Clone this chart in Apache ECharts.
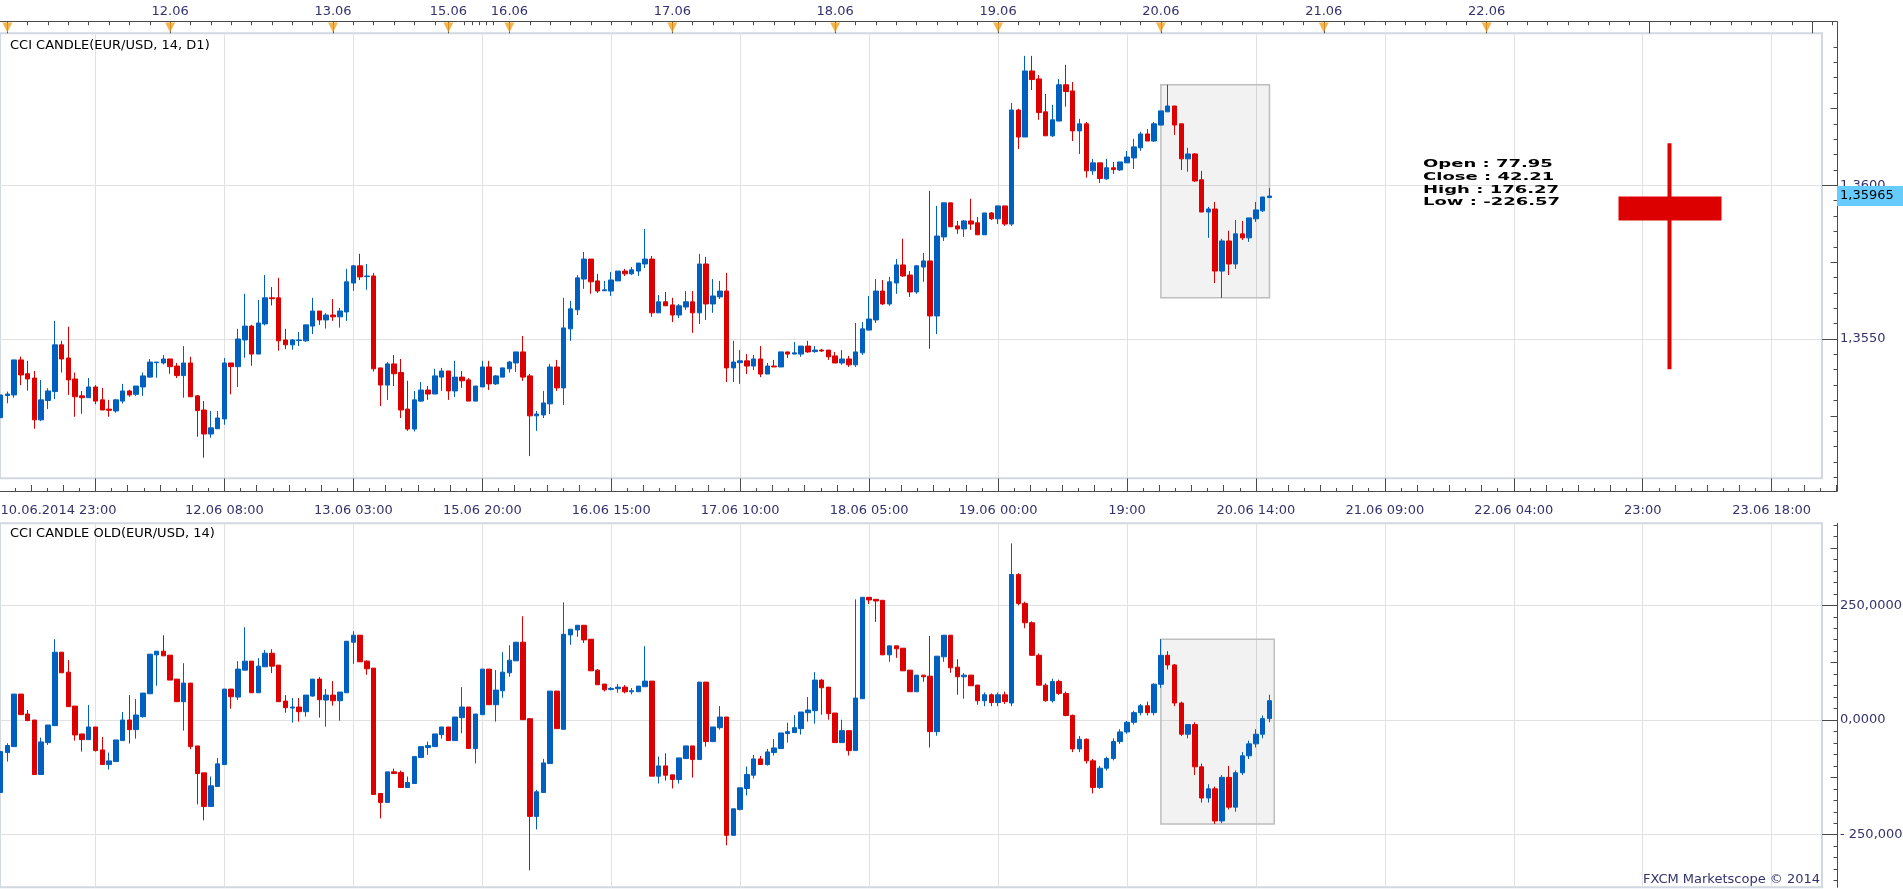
<!DOCTYPE html>
<html><head><meta charset="utf-8">
<script src="https://cdn.jsdelivr.net/npm/echarts@6/dist/echarts.min.js"></script>
<style>html,body{margin:0;padding:0;background:#fff;overflow:hidden}#c{width:1903px;height:889px}</style>
</head><body><div id="c"></div>
<script>
// ---------------- DATA ----------------
// Top panel: CCI CANDLE(EUR/USD, 14, D1) drawn on the price scale (hourly bars, index 0 = 10.06 23:00)
const topOpen = [
1.35244,1.35316,1.35318,1.35432,1.35387,1.35373,1.35237,1.35300,1.35329,1.35481,
1.35438,1.35370,1.35315,1.35309,1.35344,1.35302,1.35272,1.35266,1.35298,1.35331,
1.35320,1.35344,1.35376,1.35423,1.35422,1.35435,1.35412,1.35381,1.35422,1.35315,
1.35269,1.35191,1.35208,1.35240,1.35422,1.35410,1.35497,1.35542,1.35451,1.35549,
1.35634,1.35634,1.35497,1.35481,1.35495,1.35494,1.35542,1.35591,1.35562,1.35578,
1.35572,1.35588,1.35682,1.35738,1.35703,1.35705,1.35406,1.35350,1.35419,1.35391,
1.35272,1.35207,1.35298,1.35334,1.35321,1.35376,1.35396,1.35331,1.35376,1.35367,
1.35298,1.35344,1.35409,1.35354,1.35376,1.35403,1.35422,1.35458,1.35380,1.35250,
1.35253,1.35289,1.35409,1.35341,1.35533,1.35595,1.35695,1.35760,1.35689,1.35657,
1.35656,1.35689,1.35721,1.35712,1.35721,1.35744,1.35760,1.35585,1.35621,1.35611,
1.35578,1.35604,1.35621,1.35585,1.35744,1.35614,1.35637,1.35656,1.35406,1.35423,
1.35429,1.35412,1.35435,1.35386,1.35412,1.35409,1.35458,1.35451,1.35451,1.35477,
1.35459,1.35464,1.35464,1.35445,1.35422,1.35435,1.35416,1.35455,1.35529,1.35562,
1.35656,1.35614,1.35682,1.35741,1.35708,1.35653,1.35734,1.35754,1.35575,1.35832,
1.35943,1.35868,1.35858,1.35884,1.35878,1.35839,1.35910,1.35891,1.35933,1.35874,
1.36245,1.36157,1.36372,1.36346,1.36239,1.36161,1.36209,1.36327,1.36307,1.36177,
1.36200,1.36047,1.36073,1.36021,1.36057,1.36050,1.36073,1.36089,1.36122,1.36167,
1.36144,1.36196,1.36239,1.36258,1.36200,1.36086,1.36102,1.36018,1.35913,1.35923,
1.35721,1.35819,1.35744,1.35842,1.35829,1.35891,1.35917,1.35960];
const topHigh = [
1.35318,1.35329,1.35432,1.35443,1.35429,1.35396,1.35367,1.35340,1.35559,1.35494,
1.35540,1.35391,1.35331,1.35373,1.35350,1.35341,1.35302,1.35305,1.35354,1.35335,
1.35347,1.35391,1.35435,1.35425,1.35448,1.35435,1.35422,1.35477,1.35442,1.35318,
1.35298,1.35266,1.35266,1.35438,1.35422,1.35533,1.35647,1.35546,1.35627,1.35708,
1.35669,1.35699,1.35533,1.35500,1.35523,1.35546,1.35634,1.35591,1.35584,1.35630,
1.35601,1.35728,1.35741,1.35777,1.35744,1.35715,1.35406,1.35425,1.35448,1.35435,
1.35364,1.35331,1.35360,1.35347,1.35403,1.35406,1.35396,1.35429,1.35396,1.35373,
1.35347,1.35429,1.35429,1.35383,1.35406,1.35429,1.35458,1.35510,1.35386,1.35266,
1.35331,1.35419,1.35432,1.35634,1.35624,1.35708,1.35783,1.35760,1.35712,1.35689,
1.35718,1.35721,1.35728,1.35734,1.35747,1.35858,1.35770,1.35643,1.35653,1.35634,
1.35614,1.35656,1.35656,1.35777,1.35767,1.35695,1.35689,1.35715,1.35494,1.35464,
1.35451,1.35448,1.35477,1.35422,1.35432,1.35458,1.35458,1.35490,1.35477,1.35494,
1.35477,1.35468,1.35464,1.35458,1.35464,1.35445,1.35552,1.35555,1.35640,1.35695,
1.35692,1.35702,1.35760,1.35826,1.35721,1.35741,1.35780,1.35982,1.35933,1.35943,
1.35943,1.35884,1.35887,1.35956,1.35897,1.35910,1.35913,1.35933,1.35933,1.36268,
1.36249,1.36421,1.36421,1.36359,1.36297,1.36262,1.36346,1.36392,1.36336,1.36216,
1.36206,1.36086,1.36073,1.36086,1.36076,1.36076,1.36112,1.36151,1.36174,1.36183,
1.36206,1.36242,1.36327,1.36258,1.36200,1.36122,1.36105,1.36047,1.35930,1.35946,
1.35826,1.35852,1.35887,1.35884,1.35894,1.35946,1.35962,1.35991];
const topLow = [
1.35244,1.35291,1.35309,1.35350,1.35332,1.35208,1.35233,1.35272,1.35305,1.35391,
1.35318,1.35247,1.35257,1.35309,1.35288,1.35269,1.35247,1.35260,1.35290,1.35312,
1.35315,1.35315,1.35374,1.35374,1.35417,1.35387,1.35373,1.35309,1.35312,1.35182,
1.35114,1.35179,1.35208,1.35221,1.35320,1.35344,1.35439,1.35413,1.35451,1.35544,
1.35609,1.35462,1.35467,1.35465,1.35477,1.35491,1.35516,1.35546,1.35534,1.35559,
1.35537,1.35559,1.35657,1.35692,1.35660,1.35394,1.35282,1.35302,1.35347,1.35243,
1.35201,1.35199,1.35295,1.35302,1.35321,1.35331,1.35302,1.35311,1.35341,1.35298,
1.35298,1.35344,1.35334,1.35350,1.35376,1.35391,1.35393,1.35364,1.35119,1.35201,
1.35243,1.35256,1.35331,1.35285,1.35494,1.35578,1.35663,1.35647,1.35650,1.35657,
1.35640,1.35689,1.35705,1.35708,1.35705,1.35731,1.35572,1.35585,1.35608,1.35555,
1.35568,1.35595,1.35520,1.35549,1.35562,1.35585,1.35630,1.35360,1.35360,1.35354,
1.35386,1.35399,1.35376,1.35386,1.35409,1.35409,1.35438,1.35451,1.35442,1.35455,
1.35455,1.35458,1.35432,1.35422,1.35416,1.35409,1.35409,1.35448,1.35529,1.35552,
1.35611,1.35608,1.35647,1.35702,1.35637,1.35647,1.35686,1.35468,1.35516,1.35819,
1.35865,1.35842,1.35832,1.35855,1.35839,1.35839,1.35887,1.35874,1.35868,1.35868,
1.36118,1.36157,1.36310,1.36213,1.36161,1.36157,1.36209,1.36256,1.36144,1.36102,
1.36025,1.36034,1.36008,1.36018,1.36037,1.36047,1.36073,1.36053,1.36112,1.36144,
1.36141,1.36196,1.36239,1.36164,1.36050,1.36044,1.36011,1.35913,1.35829,1.35682,
1.35634,1.35708,1.35728,1.35822,1.35816,1.35881,1.35913,1.35960];
const topClose = [
1.35318,1.35321,1.35432,1.35383,1.35370,1.35237,1.35302,1.35331,1.35481,1.35435,
1.35367,1.35312,1.35309,1.35344,1.35298,1.35269,1.35268,1.35302,1.35331,1.35318,
1.35347,1.35380,1.35425,1.35425,1.35435,1.35410,1.35381,1.35422,1.35312,1.35267,
1.35191,1.35211,1.35243,1.35422,1.35410,1.35500,1.35542,1.35451,1.35552,1.35634,
1.35631,1.35494,1.35481,1.35497,1.35497,1.35546,1.35591,1.35562,1.35578,1.35572,
1.35591,1.35686,1.35738,1.35702,1.35705,1.35403,1.35350,1.35419,1.35387,1.35269,
1.35207,1.35302,1.35334,1.35321,1.35380,1.35396,1.35331,1.35376,1.35364,1.35298,
1.35347,1.35409,1.35354,1.35380,1.35406,1.35425,1.35458,1.35376,1.35250,1.35256,
1.35292,1.35409,1.35341,1.35536,1.35598,1.35699,1.35760,1.35686,1.35656,1.35660,
1.35692,1.35721,1.35712,1.35725,1.35747,1.35760,1.35585,1.35621,1.35608,1.35578,
1.35608,1.35621,1.35585,1.35744,1.35614,1.35640,1.35656,1.35406,1.35425,1.35429,
1.35412,1.35435,1.35386,1.35412,1.35409,1.35458,1.35451,1.35455,1.35477,1.35458,
1.35464,1.35461,1.35442,1.35422,1.35435,1.35416,1.35458,1.35533,1.35565,1.35656,
1.35614,1.35686,1.35741,1.35705,1.35653,1.35738,1.35754,1.35575,1.35835,1.35943,
1.35865,1.35858,1.35884,1.35874,1.35839,1.35910,1.35891,1.35933,1.35874,1.36245,
1.36157,1.36372,1.36344,1.36237,1.36161,1.36213,1.36327,1.36305,1.36177,1.36200,
1.36047,1.36073,1.36022,1.36057,1.36051,1.36076,1.36092,1.36125,1.36167,1.36144,
1.36200,1.36242,1.36258,1.36196,1.36086,1.36102,1.36014,1.35913,1.35923,1.35721,
1.35819,1.35744,1.35842,1.35829,1.35894,1.35920,1.35962,1.35965];

// Bottom panel: CCI CANDLE OLD(EUR/USD, 14)
const botOpen = [
-158.0,-71.0,-58.0,56.5,13.0,0,-118.8,-49.3,-12.3,147.8,
104.3,30.4,-30.4,-42.8,-15.2,-65.2,-97.1,-90.6,-44.9,0,
-21.0,7.2,57.2,142.0,150.0,141.3,89.1,39.9,80.4,-56.5,
-115.2,-188.4,-144.9,-97.1,67.4,50.0,108.7,128.3,59.4,115.9,
145.6,119.6,41.3,26.1,28.3,18.1,52.2,89.1,43.5,54.3,
42.0,59.4,169.6,184.8,128.3,113.0,-160.1,-179.7,-113.0,-114.5,
-147.1,-138.4,-81.9,-60.1,-58.0,-31.9,-15.2,-44.9,5.1,28.3,
-62.3,11.6,110.9,33.3,63.8,102.9,129.0,169.6,2.9,-210.1,
-158.0,-94.9,63.0,-20.3,185.5,196.4,206.5,176.1,108.7,78.3,
66.7,68.1,71.7,61.6,61.6,72.5,84.8,-122.5,-100.0,-119.6,
-129.7,-84.1,-56.5,-86.2,82.6,-47.1,-16.7,6.5,-251.4,-194.9,
-149.3,-120.3,-84.8,-97.1,-71.0,-62.3,-29.7,-27.5,-18.8,15.9,
20.3,87.0,71.7,15.2,-49.3,-23.2,-66.7,46.4,267.4,263.0,
260.9,142.0,161.6,156.5,108.7,61.6,97.8,95.6,-25.4,137.7,
184.8,115.2,94.2,97.8,76.1,42,55,38,55,37,
317,254,212,141,76,42,84,58,10,-63,
-42,-89,-147,-105,-84,-47,-26,-5,16,31,
16,77.95,141,120,37,-31,-10,-102,-170,-150,
-220,-125,-190,-115,-78,-52,-31,3];
const botHigh = [
-68.8,-50.7,56.5,56.5,21.7,0,-38.4,-10.9,176.1,147.8,
130.4,30.4,-30.4,32.6,-15.2,-37.0,-71.0,-43.5,17.4,54.3,
45.6,58.7,143.5,150.0,184.8,141.3,89.1,123.9,80.4,-56.5,
-115.2,-123.2,-82.6,67.4,67.4,128.3,202.2,128.3,134.8,152.2,
154.3,119.6,54.3,47.8,47.8,54.3,89.1,93.5,67.4,84.8,
60.9,171.7,193.5,184.8,130.4,113.0,-160.1,-113.0,-105.8,-110.1,
-123.2,-79.7,-58.0,-47.1,-30.4,-15.2,-15.2,6.5,71.7,28.3,
13.0,110.9,110.9,108.7,147.8,163.0,169.6,226.1,2.9,-152.2,
-84.8,63.0,63.0,256.5,197.8,206.5,206.5,176.1,110.9,78.3,
71.7,78.3,76.1,69.6,73.9,160.9,84.8,-79.7,-72.5,-119.6,
-82.6,-56.5,-56.5,82.6,82.6,-15.2,30.4,6.5,-193.5,-147.8,
-101.4,-76.1,-78.3,-63.0,-41.3,-28.3,-5.8,10.9,17.4,50.0,
104.3,89.1,71.7,15.2,0.7,-23.2,263.0,267.4,267.4,263.0,
260.9,161.6,161.6,156.5,108.7,97.8,97.8,183.3,139.1,184.8,
184.8,132.6,102.2,97.8,76.1,60,58,60,62,385,
320,258,215,145,80,90,88,62,12,-35,
-40,-85,-100,-80,-40,-20,-2,20,35,40,
80,176.27,150,122,40,-10,-5,-95,-140,-145,
-120,-100,-110,-70,-45,-20,10,55];
const botLow = [
-158.0,-90.6,-58.0,11.6,-1.4,-118.8,-118.8,-54.3,-12.3,102.9,
29.0,-44.9,-68.8,-42.8,-68.8,-97.1,-108.0,-90.6,-44.9,-51.4,
-40.6,5.1,57.2,74.6,139.8,87.0,39.9,-23.2,-63.8,-184.0,
-218.8,-188.4,-144.9,-97.1,24.6,43.5,108.7,59.4,59.4,115.9,
102.2,39.9,15.9,-5.8,-3.6,7.2,50.7,5.1,-14.5,31.2,
-1.4,59.4,122.5,126.8,98.5,-162.3,-214.5,-179.7,-116.7,-147.1,
-147.1,-138.4,-81.9,-76.1,-58.0,-40.6,-44.9,-44.9,-29.0,-62.3,
-94.9,11.6,33.3,-3.6,48.5,94.2,129.0,0.7,-327.5,-238.4,
-158.0,-94.9,-18.8,-20.3,163.8,181.2,168.1,107.2,76.8,62.3,
64.5,59.4,58.0,55.8,61.6,72.5,-122.5,-138.4,-131.9,-149.3,
-138.4,-84.1,-125.4,-86.2,-58.0,-47.1,-21.0,-273.2,-251.4,-197.1,
-164.5,-127.5,-97.1,-99.3,-77.5,-62.3,-49.3,-27.5,-31.9,-3.6,
-8.0,11.6,0.7,-49.3,-49.3,-77.5,-66.7,46.4,252.9,213.8,
142.0,126.8,135.5,107.2,61.6,61.6,83.3,-60.1,-34.1,126.8,
102.9,55.1,46.4,74.6,33.3,30,30,30,35,30,
250,200,140,75,40,38,55,8,-70,-70,
-95,-160,-150,-110,-88,-52,-30,-10,10,10,
10,70,110,30,-35,-40,-120,-180,-180,-226.57,
-225,-195,-200,-120,-85,-60,-40,-5];
const botClose = [
-68.8,-55.8,56.5,11.6,-1.4,-118.8,-47.8,-10.9,147.8,102.9,
29.0,-32.6,-42.8,-15.2,-66.7,-97.1,-89.1,-43.5,0,-21.0,
10.9,58.7,143.5,150.0,139.8,87.0,39.9,80.4,-58.0,-116.7,
-188.4,-143.5,-95.6,67.4,50.7,110.9,128.3,59.4,117.4,145.6,
117.4,39.9,26.8,28.3,18.1,54.3,89.1,44.2,54.3,42.0,
60.9,171.7,184.8,126.8,111.6,-162.3,-179.7,-113.0,-116.7,-147.1,
-136.2,-79.7,-58.0,-55.8,-30.4,-15.2,-44.9,6.5,28.3,-62.3,
13.0,110.9,33.3,65.2,104.3,130.4,169.6,0.7,-210.1,-156.5,
-93.5,63.0,-18.8,186.9,197.8,206.5,174.6,107.2,76.8,65.9,
68.8,71.7,61.6,63.8,73.9,84.8,-122.5,-100.0,-120.3,-129.7,
-82.6,-56.5,-86.2,82.6,-47.1,-15.2,6.5,-251.4,-193.5,-147.8,
-118.8,-84.8,-97.1,-69.6,-60.9,-28.3,-25.4,-16.7,17.4,21.7,
87.0,70.3,13.8,-49.3,-23.2,-66.7,47.8,267.4,261.6,259.4,
142.0,161.6,155.1,107.2,61.6,97.8,94.2,-25.4,139.1,184.8,
113.8,94.2,97.8,74.6,42.0,55,38,55,40,317,
254,212,141,76,42,84,58,10,-63,-42,
-89,-147,-105,-84,-47,-26,-5,16,31,16,
78,141,120,37,-31,-10,-102,-170,-150,-220,
-125,-190,-115,-78,-52,-31,3,42.21];

// Daily (D1) candle shown at the right, and the current day's bar range
const dayOpen = 77.95, dayClose = 42.21, dayHigh = 176.27, dayLow = -226.57;
const dayCandleBar = 246;
const dayFirstBar = 171, dayLastBar = 187;

// Axis tick labels
const timeLabelBars = [0, 33, 52, 71, 90, 109, 128, 147, 166, 185, 204, 223, 242, 261];
const timeLabels = ['10.06.2014 23:00','12.06 08:00','13.06 03:00','15.06 20:00','16.06 15:00','17.06 10:00',
  '18.06 05:00','19.06 00:00','19:00','20.06 14:00','21.06 09:00','22.06 04:00','23:00','23.06 18:00'];
const dayMarkBars = [1, 25, 49, 66, 75, 99, 123, 147, 171, 195, 219, 243, 267];
const dayLabelBars = [25, 49, 66, 75, 99, 123, 147, 171, 195, 219];
const dayLabels = ['12.06','13.06','15.06','16.06','17.06','18.06','19.06','20.06','21.06','22.06'];
const weekendTickBars = [68.3, 69.5, 70.5, 71.6, 72.6];
const priceTicks = [1.3550, 1.3600];
const cciTicks = [-250, 0, 250];

// ---------------- LAYOUT ----------------
const BLUE = '#0060C0', RED = '#DD0000';
const AXIS_C = '#4A4A4A', LABEL_C = '#33336E', GRID_C = '#E1E1E1', FRAME_C = '#D2D8E1';
const FONT = 'DejaVu Sans';
const STEP = 6.786, X0 = 0.5;                 // px per bar, centre of bar 0
const xv = px => (px - X0) / STEP;
const lin = (y, y1, v1, y2, v2) => v1 + (y - y1) * (v2 - v1) / (y2 - y1);
const pv = y => lin(y, 185.3, 1.3600, 339.0, 1.3550);
const cv = y => lin(y, 720.0, 0, 605.3, 250);
const dv = y => lin(y, 143.3, dayHigh, 369.3, dayLow);

const AX_R = 1837, FR_R = 1822;
const T_AX = 21.7, T_FR = 33.3, T_FB = 478.3, T_AXB = 491;
const B_FR = 523.3, B_FB = 887.3;

const outerMin = xv(-5), outerMax = xv(AX_R);
const inRange = v => v >= outerMin && v <= outerMax;
const majors = [], mids = [], shorts = [];
for (let k = -1; k <= 14; k++) {
  const b = 14 + 19 * k;
  majors.push(b);
  [4.75, 9.5, 14.25].forEach(d => mids.push(b + d));
  [2.375, 7.125, 11.875, 16.625].forEach(d => shorts.push(b + d));
}
const majorsR = majors.filter(inRange), midsR = mids.filter(inRange), shortsR = shorts.filter(inRange);
const topMinor = [];
for (let j = 0; j < dayMarkBars.length; j++) {
  const a = dayMarkBars[j], b = j + 1 < dayMarkBars.length ? dayMarkBars[j + 1] : outerMax + 1;
  if (a === 66) { weekendTickBars.forEach(t => topMinor.push(t)); continue; }
  for (let t = a + 3; t < b - 0.5; t += 3) if (inRange(t)) topMinor.push(t);
}
const pMid = [], pShort = [];
for (let t = 1; t < 30; t++) {
  const v = Math.round((1.3500 + t * 0.0005) * 10000) / 10000;
  if (t % 10 === 0) continue;
  if (t % 5 === 0) pMid.push(v); else pShort.push(v);
}
const cMid = [-125, 125, 375], cShort = [];
for (let v = -350; v <= 425; v += 25) if (v % 125 !== 0) cShort.push(v);

const fmtPrice = v => v.toFixed(4).replace('.', ',');
const fmtCci = v => (v < 0 ? '- ' : '') + Math.abs(v).toFixed(4).replace('.', ',');

const topData = topOpen.map((o, i) => [i, o, topClose[i], topLow[i], topHigh[i]]);
const botData = botOpen.map((o, i) => [i, o, botClose[i], botLow[i], botHigh[i]]);
const boxHigh = Math.max(...topHigh.slice(dayFirstBar, dayLastBar + 1));
const boxLow = Math.min(...topLow.slice(dayFirstBar, dayLastBar + 1));

const lineS = {color: AXIS_C, width: 1};
const lbl = {color: LABEL_C, fontSize: 13, fontFamily: FONT};
const hiddenTickAxis = (extra) => Object.assign({
  axisLine: {show: false, onZero: false}, axisLabel: {show: false}, splitLine: {show: false}
}, extra);
const candleStyle = {color: BLUE, color0: RED, borderColor: BLUE, borderColor0: RED, borderWidth: 1};

const gridCommon = {containLabel: false, outerBoundsMode: 'none'};
const option = {
  animation: false,
  backgroundColor: '#ffffff',
  grid: [
    Object.assign({left: -5, top: T_AX, width: AX_R + 5, height: T_FR - T_AX}, gridCommon),
    Object.assign({left: -5, top: T_AX, width: AX_R + 5, height: T_AXB - T_AX}, gridCommon),
    Object.assign({left: 0, top: T_FR, width: FR_R, height: T_FB - T_FR, show: true, borderColor: FRAME_C, borderWidth: 2, backgroundColor: 'transparent'}, gridCommon),
    Object.assign({left: 0, top: B_FR, width: FR_R, height: B_FB - B_FR, show: true, borderColor: FRAME_C, borderWidth: 2, backgroundColor: 'transparent'}, gridCommon)
  ],
  xAxis: [
    {gridIndex: 0, type: 'value', position: 'top', min: outerMin, max: outerMax,
      axisLine: {show: true, onZero: false, lineStyle: lineS},
      axisTick: {show: true, inside: true, length: 3.5, lineStyle: lineS, customValues: topMinor},
      axisLabel: Object.assign({show: true, margin: 4, customValues: dayLabelBars,
        formatter: v => { const k = dayLabelBars.indexOf(v); return k >= 0 ? dayLabels[k] : ''; }}, lbl),
      splitLine: {show: false}},
    hiddenTickAxis({gridIndex: 0, type: 'value', position: 'top', min: outerMin, max: outerMax,
      axisTick: {show: true, inside: true, length: T_FR - T_AX, lineStyle: lineS, customValues: dayMarkBars.filter(inRange)}}),
    {gridIndex: 1, type: 'value', position: 'bottom', min: outerMin, max: outerMax,
      axisLine: {show: true, onZero: false, lineStyle: lineS},
      axisTick: {show: true, inside: true, length: T_AXB - T_FB, lineStyle: lineS, customValues: majorsR},
      axisLabel: Object.assign({show: true, margin: 13, alignMinLabel: 'left', customValues: timeLabelBars,
        formatter: v => { const k = timeLabelBars.indexOf(v); return k >= 0 ? timeLabels[k] : ''; }}, lbl),
      splitLine: {show: false}},
    hiddenTickAxis({gridIndex: 1, type: 'value', position: 'bottom', min: outerMin, max: outerMax,
      axisTick: {show: true, inside: true, length: 6, lineStyle: lineS, customValues: midsR}}),
    hiddenTickAxis({gridIndex: 1, type: 'value', position: 'bottom', min: outerMin, max: outerMax,
      axisTick: {show: true, inside: true, length: 3, lineStyle: lineS, customValues: shortsR}}),
    {gridIndex: 2, type: 'value', min: xv(0), max: xv(FR_R),
      axisLine: {show: false, onZero: false}, axisLabel: {show: false},
      axisTick: {show: false, customValues: majorsR},
      splitLine: {show: true, lineStyle: {color: GRID_C, width: 1}}},
    {gridIndex: 3, type: 'value', min: xv(0), max: xv(FR_R),
      axisLine: {show: false, onZero: false}, axisLabel: {show: false},
      axisTick: {show: false, customValues: majorsR},
      splitLine: {show: true, lineStyle: {color: GRID_C, width: 1}}}
  ],
  yAxis: [
    {gridIndex: 0, type: 'value', min: 0, max: 1, show: false},
    {gridIndex: 1, type: 'value', position: 'right', min: pv(T_AXB), max: pv(T_AX),
      axisLine: {show: true, onZero: false, lineStyle: lineS},
      axisTick: {show: true, inside: true, length: AX_R - FR_R, lineStyle: lineS, customValues: priceTicks},
      axisLabel: Object.assign({show: true, margin: 3, customValues: priceTicks, formatter: fmtPrice}, lbl),
      splitLine: {show: false}},
    hiddenTickAxis({gridIndex: 1, type: 'value', position: 'right', min: pv(T_AXB), max: pv(T_AX),
      axisTick: {show: true, inside: true, length: 6.5, lineStyle: lineS, customValues: pMid}}),
    hiddenTickAxis({gridIndex: 1, type: 'value', position: 'right', min: pv(T_AXB), max: pv(T_AX),
      axisTick: {show: true, inside: true, length: 3.5, lineStyle: lineS, customValues: pShort}}),
    {gridIndex: 2, type: 'value', position: 'right', min: pv(T_FB), max: pv(T_FR),
      axisLine: {show: false, onZero: false}, axisLabel: {show: false},
      axisTick: {show: false, customValues: priceTicks},
      splitLine: {show: true, lineStyle: {color: GRID_C, width: 1}}},
    {gridIndex: 2, type: 'value', position: 'left', min: dv(T_FB), max: dv(T_FR), show: false},
    {gridIndex: 3, type: 'value', position: 'right', offset: AX_R - FR_R, min: cv(B_FB), max: cv(B_FR),
      axisLine: {show: true, onZero: false, lineStyle: lineS},
      axisTick: {show: true, inside: true, length: AX_R - FR_R, lineStyle: lineS, customValues: cciTicks},
      axisLabel: Object.assign({show: true, margin: 3, customValues: cciTicks, formatter: fmtCci}, lbl),
      splitLine: {show: true, lineStyle: {color: GRID_C, width: 1}}},
    hiddenTickAxis({gridIndex: 3, type: 'value', position: 'right', offset: AX_R - FR_R, min: cv(B_FB), max: cv(B_FR),
      axisTick: {show: true, inside: true, length: 6.5, lineStyle: lineS, customValues: cMid}}),
    hiddenTickAxis({gridIndex: 3, type: 'value', position: 'right', offset: AX_R - FR_R, min: cv(B_FB), max: cv(B_FR),
      axisTick: {show: true, inside: true, length: 3.5, lineStyle: lineS, customValues: cShort}})
  ],
  series: [
    {type: 'line', xAxisIndex: 5, yAxisIndex: 4, data: [], z: 1, silent: true,
      markArea: {silent: true, itemStyle: {color: 'rgba(0,0,0,0.05)', borderColor: '#BEBEBE', borderWidth: 1.5},
        data: [[{xAxis: dayFirstBar, yAxis: boxHigh}, {xAxis: dayLastBar, yAxis: boxLow}]]}},
    {type: 'candlestick', name: 'CCI CANDLE', xAxisIndex: 5, yAxisIndex: 4, z: 3,
      data: topData, encode: {x: 0, y: [1, 2, 3, 4]}, barWidth: 5, itemStyle: candleStyle},
    {type: 'candlestick', name: 'D1', xAxisIndex: 5, yAxisIndex: 5, z: 3,
      data: [[dayCandleBar, dayOpen, dayClose, dayLow, dayHigh]], encode: {x: 0, y: [1, 2, 3, 4]},
      barWidth: 100, itemStyle: {color: BLUE, color0: RED, borderColor: BLUE, borderColor0: RED, borderWidth: 4}},
    {type: 'line', xAxisIndex: 6, yAxisIndex: 6, data: [], z: 1, silent: true,
      markArea: {silent: true, itemStyle: {color: 'rgba(0,0,0,0.05)', borderColor: '#BEBEBE', borderWidth: 1.5},
        data: [[{xAxis: dayFirstBar, yAxis: dayHigh}, {xAxis: dayLastBar + 0.7, yAxis: dayLow}]]}},
    {type: 'candlestick', name: 'CCI CANDLE OLD', xAxisIndex: 6, yAxisIndex: 6, z: 3,
      data: botData, encode: {x: 0, y: [1, 2, 3, 4]}, barWidth: 5, itemStyle: candleStyle},
    {type: 'scatter', xAxisIndex: 0, yAxisIndex: 0, z: 2, silent: true,
      data: dayMarkBars.slice(0, 11).map(b => [b, 0.5]),
      symbol: 'triangle', symbolRotate: 180, symbolSize: [10, 10], itemStyle: {color: '#F4A31E'}}
  ]
};

const chart = echarts.init(document.getElementById('c'), null, {renderer: 'canvas', width: 1903, height: 889});
chart.setOption(option);

const lastClose = topClose[topClose.length - 1];
const yLast = chart.convertToPixel({yAxisIndex: 1}, lastClose);
const infoText = ['Open : ' + dayOpen.toFixed(2), 'Close : ' + dayClose.toFixed(2),
  'High : ' + dayHigh.toFixed(2), 'Low : ' + dayLow.toFixed(2)].join('\n');
chart.setOption({
  graphic: [
    {type: 'text', z: 100, left: 10, top: 39, style: {text: 'CCI CANDLE(EUR/USD, 14, D1)', font: '13px "DejaVu Sans"', fill: '#000'}},
    {type: 'text', z: 100, left: 10, top: 527, style: {text: 'CCI CANDLE OLD(EUR/USD, 14)', font: '13px "DejaVu Sans"', fill: '#000'}},
    {type: 'text', z: 100, x: 1423, y: 158, scaleX: 1.8, style: {text: infoText, font: 'bold 10px "DejaVu Sans"', fill: '#000', lineHeight: 12.8, verticalAlign: 'top'}},
    {type: 'text', z: 100, x: 1820, y: 880, style: {text: 'FXCM Marketscope \u00A9 2014', font: '13px "DejaVu Sans"', fill: LABEL_C, align: 'right', verticalAlign: 'middle'}},
    {type: 'rect', z: 100, shape: {x: AX_R, y: yLast - 10, width: 1903 - AX_R, height: 20}, style: {fill: '#66CCFF'}},
    {type: 'text', z: 101, x: AX_R + 3, y: yLast, style: {text: lastClose.toFixed(5).replace('.', ','), font: '13px "DejaVu Sans"', fill: '#000', verticalAlign: 'middle'}}
  ]
});
</script>
</body></html>
